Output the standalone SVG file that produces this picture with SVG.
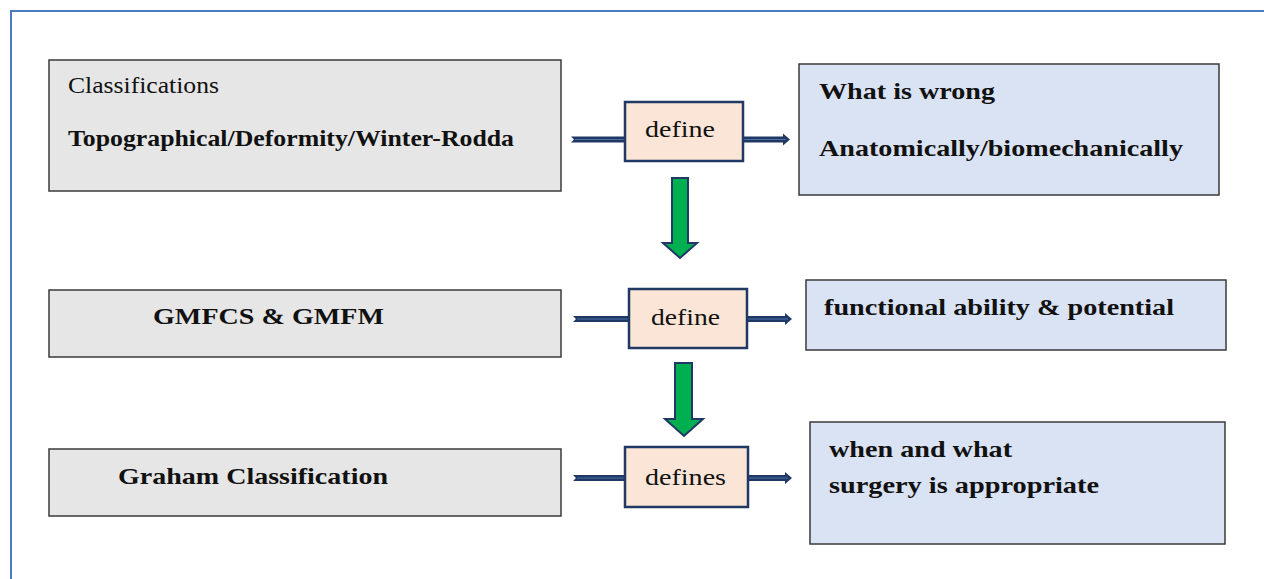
<svg xmlns="http://www.w3.org/2000/svg" width="1264" height="579" viewBox="0 0 1264 579">
<style>
.lbox{fill:#e6e6e6;stroke:#3a3a3a;stroke-width:1.5}
.rbox{fill:#dae3f3;stroke:#3a3a3a;stroke-width:1.5}
.dbox{fill:#fbe5d6;stroke:#1f3864;stroke-width:2.5}
.t{font-family:"Liberation Serif",serif;font-size:24px;fill:#111}
.b{font-weight:bold}
.shaft{fill:#1f3864}
.core{stroke:#4f6ea5;stroke-width:1;fill:none}
.green{fill:#00b050;stroke:#1f3864;stroke-width:2;stroke-linejoin:miter}
</style>
<rect x="0" y="0" width="1264" height="579" fill="#fff"/>
<path d="M11 579 V11 H1264" fill="none" stroke="#4a7cc0" stroke-width="2"/>
<g id="connectors">
<path class="shaft" d="M571 136.5 H625 V142.5 H571 L574 139.5 Z"/>
<path class="shaft" d="M743 136.5 H783 V133.5 L790 139.5 L783 145.5 V142.5 H743 Z"/>
<path class="shaft" d="M573 316 H629 V322 H573 L576 319 Z"/>
<path class="shaft" d="M747 316 H785 V313 L792 319 L785 325 V322 H747 Z"/>
<path class="shaft" d="M573 475 H625 V481 H573 L576 478 Z"/>
<path class="shaft" d="M748 475 H785 V472 L792 478 L785 484 V481 H748 Z"/>
<path class="core" d="M575 139.5 H625 M743 139.5 H786 M577 319 H629 M747 319 H788 M577 478 H625 M748 478 H788"/>
<path class="green" d="M672 178 H688 V243 H697 L680 258 L663 243 H672 Z"/>
<path class="green" d="M675 363 H692 V419 H703 L684 436 L665 419 H675 Z"/>
</g>
<g id="n1">
<rect class="lbox" x="49" y="60" width="512" height="131"/>
<text class="t" x="68" y="93" textLength="151" lengthAdjust="spacingAndGlyphs">Classifications</text>
<text class="t b" x="68" y="146" textLength="446" lengthAdjust="spacingAndGlyphs">Topographical/Deformity/Winter-Rodda</text>
</g>
<g id="d1">
<rect class="dbox" x="625" y="102" width="118" height="59"/>
<text class="t" x="645" y="137" textLength="70" lengthAdjust="spacingAndGlyphs">define</text>
</g>
<g id="r1">
<rect class="rbox" x="799" y="64" width="420" height="131"/>
<text class="t b" x="819" y="99" textLength="176" lengthAdjust="spacingAndGlyphs">What is wrong</text>
<text class="t b" x="819" y="156" textLength="364" lengthAdjust="spacingAndGlyphs">Anatomically/biomechanically</text>
</g>
<g id="n2">
<rect class="lbox" x="49" y="290" width="512" height="67"/>
<text class="t b" x="153" y="324" textLength="231" lengthAdjust="spacingAndGlyphs">GMFCS &amp; GMFM</text>
</g>
<g id="d2">
<rect class="dbox" x="629" y="289" width="118" height="59"/>
<text class="t" x="651" y="325" textLength="69" lengthAdjust="spacingAndGlyphs">define</text>
</g>
<g id="r2">
<rect class="rbox" x="806" y="280" width="420" height="70"/>
<text class="t b" x="824" y="315" textLength="350" lengthAdjust="spacingAndGlyphs">functional ability &amp; potential</text>
</g>
<g id="n3">
<rect class="lbox" x="49" y="449" width="512" height="67"/>
<text class="t b" x="118" y="484" textLength="270" lengthAdjust="spacingAndGlyphs">Graham Classification</text>
</g>
<g id="d3">
<rect class="dbox" x="625" y="447" width="123" height="60"/>
<text class="t" x="645" y="485" textLength="81" lengthAdjust="spacingAndGlyphs">defines</text>
</g>
<g id="r3">
<rect class="rbox" x="810" y="422" width="415" height="122"/>
<text class="t b" x="829" y="457" textLength="183" lengthAdjust="spacingAndGlyphs">when and what</text>
<text class="t b" x="829" y="493" textLength="270" lengthAdjust="spacingAndGlyphs">surgery is appropriate</text>
</g>
</svg>
